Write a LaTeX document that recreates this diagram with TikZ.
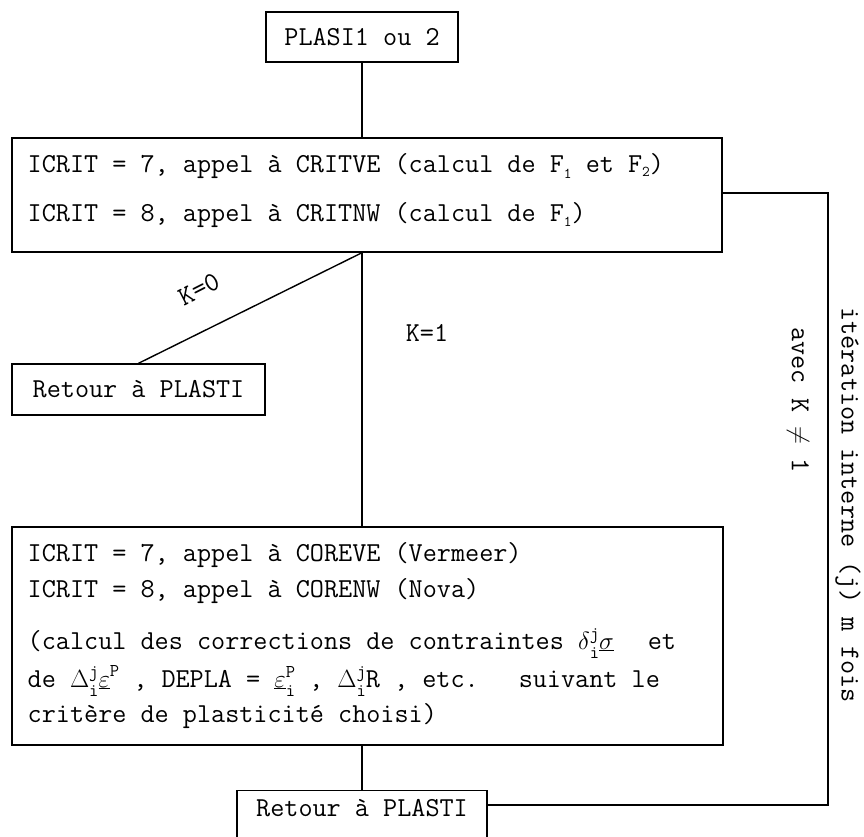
\documentclass[tikz,border=0pt]{standalone}
\newcommand\jsup[2]{\rlap{\raisebox{10pt}{\fontsize{18}{18}\selectfont #1}}\raisebox{-9pt}{\fontsize{18}{18}\selectfont #2}}
\newcommand\psup[1]{\raisebox{11pt}{\fontsize{18}{18}\selectfont #1}}
\newcommand\lowi[2]{\raisebox{#1}{\fontsize{15}{15}\selectfont #2}}
\begin{document}
\begin{tikzpicture}[x=1pt,y=-1pt,line width=1.4pt,
  box/.style={draw, rectangle, inner sep=0pt, font=\ttfamily\fontsize{27.4}{27.4}\selectfont},
  txt/.style={anchor=base west, inner sep=0pt, font=\ttfamily\fontsize{27.4}{27.4}\selectfont},
  lbl/.style={inner sep=0pt, font=\ttfamily\fontsize{27.4}{27.4}\selectfont}]
\useasboundingbox (0,0) rectangle (864,836);
\clip (0,0) rectangle (864,836);
% boxes
\node[box, minimum width=192pt, minimum height=50pt] (top) at (362,37) {PLASI1 ou 2};
\node[box, minimum width=710pt, minimum height=114pt] (box2) at (367,195) {};
\node[box, minimum width=253pt, minimum height=51pt] (ret1) at (138.5,389.5) {Retour à PLASTI};
\node[box, minimum width=711pt, minimum height=218pt] (box3) at (367.5,636) {};
\node[box, minimum width=250pt, minimum height=70pt, anchor=north] (ret2) at (362,790) {};
\node[lbl] (ret2t) at (362,808) {Retour à PLASTI};
% texts in box2
\node[txt] (b2l1) at (27,172) {ICRIT = 7, appel à CRITVE (calcul de F\lowi{-6pt}{1} et F\lowi{-4pt}{2})};
\node[txt] (b2l2) at (27,221) {ICRIT = 8, appel à CRITNW (calcul de F\lowi{-5pt}{1})};
% texts in box3
\node[txt] (b3l1) at (27,561) {ICRIT = 7, appel à COREVE (Vermeer)};
\node[txt] (b3l2) at (27,597) {ICRIT = 8, appel à CORENW (Nova)};
\node[txt] (b3l3) at (27,649) {(calcul des corrections de contraintes $\delta$\jsup{j}{i}\underline{$\sigma$}\hspace{34pt}et};
\node[txt] (b3l4) at (27,687) {de $\Delta$\jsup{j}{i}\underline{$\varepsilon$}\psup{P} , DEPLA = \underline{$\varepsilon$}\jsup{P}{i} , $\Delta$\jsup{j}{i}R , etc.\hspace{40pt}suivant le};
\node[txt] (b3l5) at (27,722) {critère de plasticité choisi)};
% connectors
\coordinate (mid2) at (top.south |- box2.south);
\coordinate (rc1) at (828,193);
\coordinate (rc2) at (828,805);
\draw (top.south) -- (top.south |- box2.north);
\draw (mid2) -- (ret1.north);
\draw (mid2) -- (top.south |- box3.north);
\draw (top.south |- box3.south) -- (ret2.north);
\draw (rc1 -| box2.east) -- (rc1) -- (rc2) -- (rc2 -| ret2.east);
% labels
\node[lbl, rotate=27] (k0) at (199,289) {K=0};
\node[lbl] (k1) at (427,333) {K=1};
\node[lbl, rotate=-90] (iter) at (848,505) {itération interne (j) m fois};
\node[lbl, rotate=-90] (avec) at (798,400) {avec K $\neq$ 1};
\end{tikzpicture}
\end{document}
